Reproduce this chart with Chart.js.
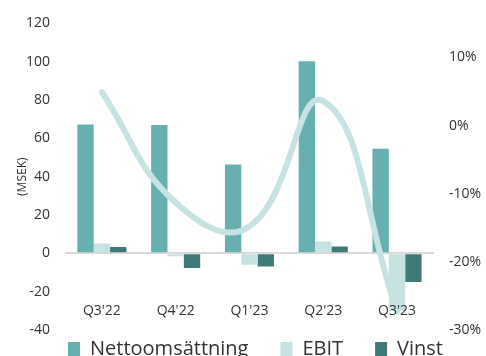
<!DOCTYPE html>
<html>
<head>
<meta charset="utf-8">
<script src="https://cdn.jsdelivr.net/npm/chart.js@4"></script>
<style>
  html, body { margin: 0; padding: 0; background: #fff; overflow: hidden; }
  #wrap { width: 496px; height: 392px; }
</style>
</head>
<body>
<div id="wrap"><canvas id="kvartalChart"></canvas></div>
<script>
// kvartal
const categories = ["Q3'22", "Q4'22", "Q1'23", "Q2'23", "Q3'23"];
// MSEK
const nettoomsattning = [67.3, 67, 46.4, 100.3, 54.6];
const ebit = [5.2, -1.5, -6, 6.2, -30];
const vinst = [3.3, -7.6, -6.8, 3.6, -14.9];
// vinstmarginal i procent, höger axel
const marginal = [4.9, -11.3, -14.8, 3.6, -27.3];
const leftTicks = [-40, -20, 0, 20, 40, 60, 80, 100, 120];
const rightTicks = [-30, -20, -10, 0, 10];

const textColor = "#333333";
const fontFamily = "'Open Sans', sans-serif";

// kvartalsetiketter ritas inne i diagramytan, strax ovanför -40
const kvartalLabels = {
  id: "kvartalLabels",
  afterDatasetsDraw(chart) {
    const x = chart.scales.x;
    const y = chart.scales.y;
    const c = chart.ctx;
    c.save();
    c.fillStyle = textColor;
    c.font = "14px " + fontFamily;
    c.textAlign = "center";
    c.textBaseline = "middle";
    categories.forEach(function (cat, i) {
      c.fillText(cat, x.getPixelForValue(i), y.getPixelForValue(-30));
    });
    c.restore();
  },
};

// flytta förklaringen lite närmare diagrammet
const legendShift = {
  id: "legendShift",
  afterLayout(chart) {
    chart.legend.top -= 23;
    chart.legend.bottom -= 23;
    chart.legend.left += 6;
    chart.legend.right += 6;
  },
};

let ctx = document.getElementById("kvartalChart").getContext("2d");

let kvartalChart = new Chart(ctx, {
  plugins: [kvartalLabels, legendShift],
  data: {
    labels: categories,
    datasets: [
      {
        type: "line",
        label: "Marginal",
        data: marginal,
        yAxisID: "y1",
        borderColor: "#c6e3e2",
        borderWidth: 6,
        borderCapStyle: "round",
        tension: 0.45,
        pointRadius: 0,
        fill: false,
        order: 0,
      },
      {
        type: "bar",
        label: "Nettoomsättning",
        data: nettoomsattning,
        backgroundColor: "#67b0b0",
        yAxisID: "y",
        order: 1,
      },
      {
        type: "bar",
        label: "EBIT",
        data: ebit,
        backgroundColor: "#c6e3e2",
        yAxisID: "y",
        order: 1,
      },
      {
        type: "bar",
        label: "Vinst",
        data: vinst,
        backgroundColor: "#3f7a79",
        yAxisID: "y",
        order: 1,
      },
    ],
  },
  options: {
    responsive: true,
    maintainAspectRatio: false,
    animation: false,
    datasets: {
      bar: {
        barPercentage: 1,
        categoryPercentage: 0.665,
      },
    },
    layout: {
      padding: { top: 9, left: 3, right: 0, bottom: 0 },
    },
    plugins: {
      tooltip: { enabled: false },
      legend: {
        position: "bottom",
        labels: {
          filter: function (item) {
            return item.text !== "Marginal";
          },
          boxWidth: 12,
          boxHeight: 14,
          padding: 32,
          color: textColor,
          font: { family: fontFamily, size: 20 },
        },
      },
    },
    scales: {
      x: {
        grid: { display: false, drawTicks: false },
        border: { display: false },
        ticks: { display: false },
      },
      y: {
        position: "left",
        min: -40,
        max: 120,
        afterBuildTicks: function (scale) {
          scale.ticks = leftTicks.map((v) => ({ value: v }));
        },
        afterFit: function (scale) {
          scale.width = 62;
        },
        border: { display: false },
        grid: {
          drawTicks: false,
          lineWidth: 2,
          color: function (context) {
            return context.tick && context.tick.value === 0
              ? "#d9d9d9"
              : "rgba(0,0,0,0)";
          },
        },
        ticks: {
          padding: 15,
          color: textColor,
          font: { family: fontFamily, size: 14 },
        },
        title: {
          display: true,
          text: "(MSEK)",
          color: textColor,
          padding: { top: 12, bottom: 0 },
          font: { family: fontFamily, size: 12 },
        },
      },
      y1: {
        position: "right",
        min: -30,
        max: 15,
        afterBuildTicks: function (scale) {
          scale.ticks = rightTicks.map((v) => ({ value: v }));
        },
        border: { display: false },
        grid: { display: false, drawTicks: false },
        ticks: {
          padding: 15,
          color: textColor,
          font: { family: fontFamily, size: 14 },
          callback: function (value) {
            return value + "%";
          },
        },
      },
    },
  },
});
</script>
</body>
</html>
